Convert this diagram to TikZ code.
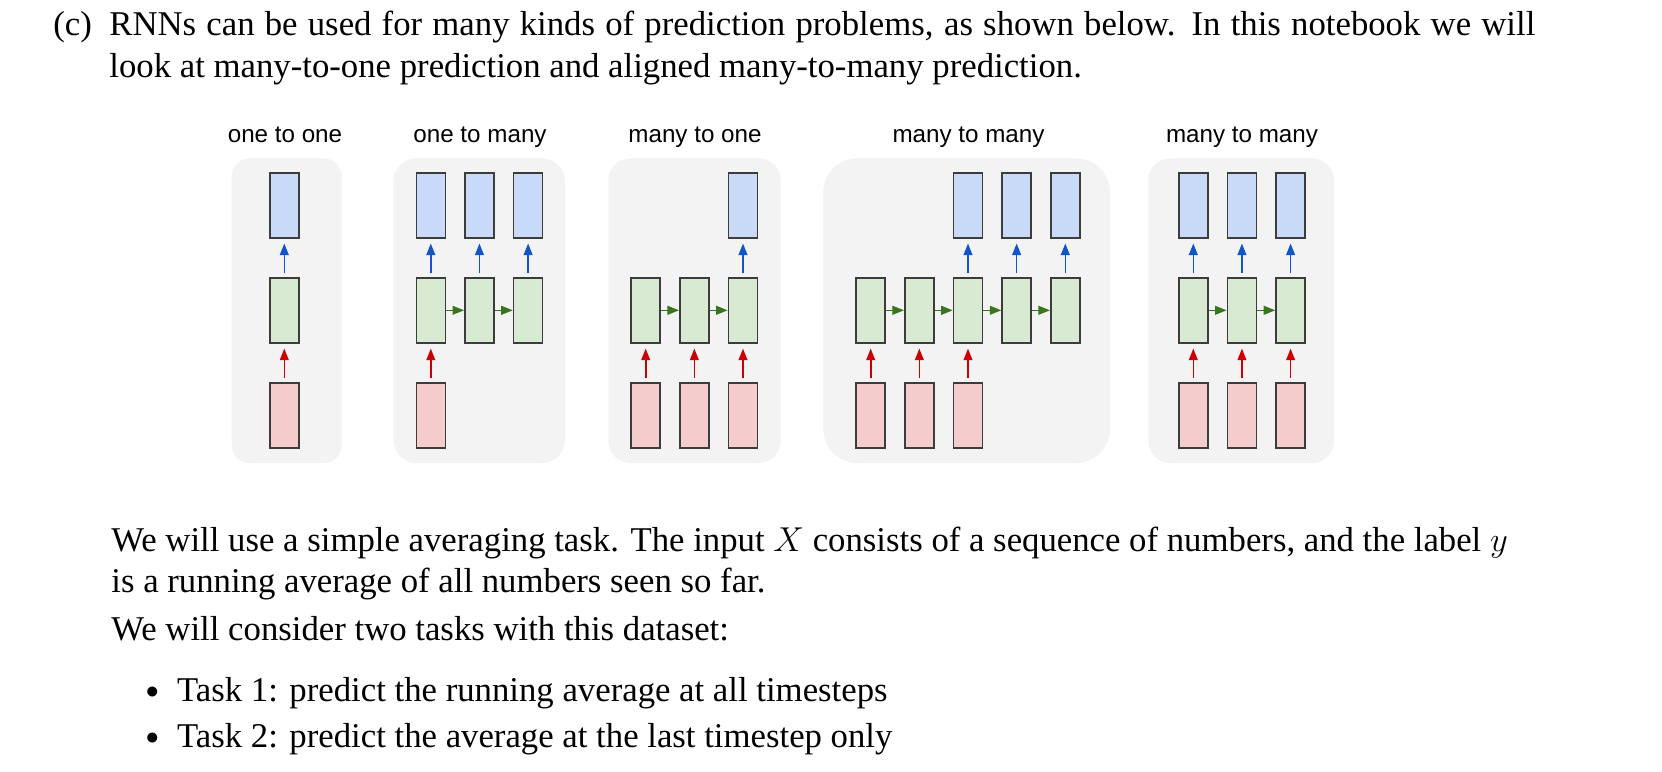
\documentclass[tikz,border=0pt]{standalone}
\usepackage{fontspec}
\setmainfont{Liberation Serif}
\newfontfamily\labelfont{Liberation Sans}
\usetikzlibrary{arrows.meta}
\definecolor{panelbg}{HTML}{F3F3F3}
\definecolor{bluefill}{HTML}{C9DAF8}
\definecolor{greenfill}{HTML}{D9EAD3}
\definecolor{redfill}{HTML}{F4CCCC}
\definecolor{boxedge}{HTML}{3C3C3C}
\definecolor{bluearrow}{HTML}{1155CC}
\definecolor{greenarrow}{HTML}{38761D}
\definecolor{redarrow}{HTML}{CC0000}
\newcommand\bodysize{\fontsize{17.37pt}{20.9pt}\selectfont}
\newcommand\mybullet{\raisebox{1.1pt}{\scalebox{0.75}{$\bullet$}}}
\tikzset{
  panel/.style={fill=panelbg, draw=none, inner sep=0pt, outer sep=0pt},
  cell/.style={draw=boxedge, line width=0.8pt, minimum width=14.5pt, minimum height=32.5pt, inner sep=0pt},
  outcell/.style={cell, fill=bluefill},
  hidcell/.style={cell, fill=greenfill},
  incell/.style={cell, fill=redfill},
  tip/.style={-{Triangle[length=5.8pt,width=4.4pt]}},
  outarrow/.style={tip, draw=bluearrow, fill=bluearrow, line width=0.8pt, shorten <=2pt, shorten >=2.5pt},
  inarrow/.style={tip, draw=redarrow, fill=redarrow, line width=0.8pt, shorten <=2pt, shorten >=2.5pt},
  recarrow/.style={tip, draw=greenarrow, fill=greenarrow, line width=0.8pt},
  title/.style={font=\labelfont\fontsize{12.1pt}{14pt}\selectfont, anchor=base, inner sep=0pt},
  body/.style={font=\bodysize, anchor=base west, inner sep=0pt}
}
\begin{document}
\begin{tikzpicture}[x=0.5pt,y=-0.5pt]
\useasboundingbox (0,0) rectangle (1662,772);
% text above
\node[body] (itemc) at (53,35) {(c)};
\node[body] (topa) at (109,35) {\hbox to 713pt{RNNs can be used for many kinds of prediction problems, as shown below. In this notebook we will}};
\node[body] (topb) at (109,77.3) {look at many-to-one prediction and aligned many-to-many prediction.};
% panels
\node[panel, rounded corners=9pt, minimum width=55pt, minimum height=152.35pt] (panelA) at (286.7,310.65) {};
\node[panel, rounded corners=11.5pt, minimum width=85.85pt, minimum height=152.35pt] (panelB) at (479.15,310.65) {};
\node[panel, rounded corners=11pt, minimum width=86.2pt, minimum height=152.35pt] (panelC) at (694.5,310.65) {};
\node[panel, rounded corners=17pt, minimum width=143.35pt, minimum height=152.35pt] (panelD) at (966.65,310.65) {};
\node[panel, rounded corners=11pt, minimum width=92.85pt, minimum height=152.35pt] (panelE) at (1241.15,310.65) {};
% titles
\node[title] (tA) at (285,142) {one to one};
\node[title] (tB) at (480,142) {one to many};
\node[title] (tC) at (695,142) {many to one};
\node[title] (tD) at (968.5,142) {many to many};
\node[title] (tE) at (1242,142) {many to many};
% panel A: one to one
\node[outcell] (Ao1) at (284.3,205.2) {};
\node[hidcell] (Ah1) at (284.3,310.3) {};
\node[incell] (Ai1) at (284.3,415.5) {};
\draw[outarrow] (Ah1.north) -- (Ao1.south);
\draw[inarrow] (Ai1.north) -- (Ah1.south);
% panel B: one to many
\foreach \k/\x in {1/430.8,2/479.45,3/528.1}{
  \node[outcell] (Bo\k) at (\x,205.2) {};
  \node[hidcell] (Bh\k) at (\x,310.3) {};
  \draw[outarrow] (Bh\k.north) -- (Bo\k.south);
}
\node[incell] (Bi1) at (430.8,415.5) {};
\draw[inarrow] (Bi1.north) -- (Bh1.south);
\draw[recarrow] (Bh1.east) -- (Bh2.west);
\draw[recarrow] (Bh2.east) -- (Bh3.west);
% panel C: many to one
\foreach \k/\x in {1/645.7,2/694.35,3/743.0}{
  \node[hidcell] (Ch\k) at (\x,310.3) {};
  \node[incell] (Ci\k) at (\x,415.5) {};
  \draw[inarrow] (Ci\k.north) -- (Ch\k.south);
}
\node[outcell] (Co3) at (743.0,205.2) {};
\draw[outarrow] (Ch3.north) -- (Co3.south);
\draw[recarrow] (Ch1.east) -- (Ch2.west);
\draw[recarrow] (Ch2.east) -- (Ch3.west);
% panel D: many to many (delayed)
\foreach \k/\x in {1/870.7,2/919.35,3/968.0,4/1016.65,5/1065.3}{
  \node[hidcell] (Dh\k) at (\x,310.3) {};
}
\foreach \k in {1,2,3}{
  \node[incell] (Di\k) at (Dh\k |- 0,415.5) {};
  \draw[inarrow] (Di\k.north) -- (Dh\k.south);
}
\foreach \k in {3,4,5}{
  \node[outcell] (Do\k) at (Dh\k |- 0,205.2) {};
  \draw[outarrow] (Dh\k.north) -- (Do\k.south);
}
\foreach \a/\b in {1/2,2/3,3/4,4/5}{
  \draw[recarrow] (Dh\a.east) -- (Dh\b.west);
}
% panel E: aligned many to many
\foreach \k/\x in {1/1193.3,2/1241.95,3/1290.6}{
  \node[outcell] (Eo\k) at (\x,205.2) {};
  \node[hidcell] (Eh\k) at (\x,310.3) {};
  \node[incell] (Ei\k) at (\x,415.5) {};
  \draw[outarrow] (Eh\k.north) -- (Eo\k.south);
  \draw[inarrow] (Ei\k.north) -- (Eh\k.south);
}
\draw[recarrow] (Eh1.east) -- (Eh2.west);
\draw[recarrow] (Eh2.east) -- (Eh3.west);
% text below
\node[body] (para1) at (111,551.7) {We will use a simple averaging task. The input $X$ consists of a sequence of numbers, and the label $y$};
\node[body] (para2) at (111,592.7) {is a running average of all numbers seen so far.};
\node[body] (para3) at (111,640) {We will consider two tasks with this dataset:};
\node[body] (bul1) at (145.5,701) {\mybullet};
\node[body] (task1) at (176.7,701) {Task 1: predict the running average at all timesteps};
\node[body] (bul2) at (145.5,747) {\mybullet};
\node[body] (task2) at (176.7,747) {Task 2: predict the average at the last timestep only};
\end{tikzpicture}
\end{document}
